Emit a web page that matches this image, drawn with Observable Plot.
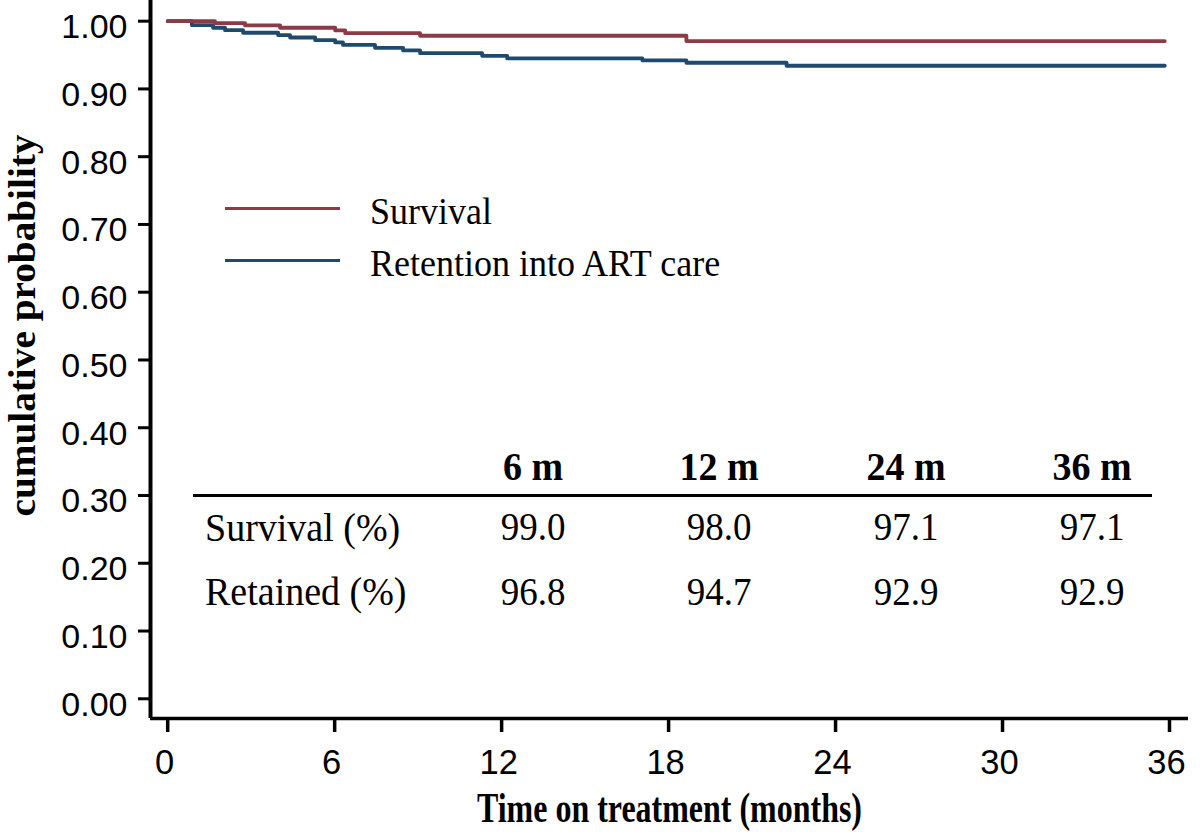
<!DOCTYPE html>
<html>
<head>
<meta charset="utf-8">
<script src="https://cdn.jsdelivr.net/npm/d3@7"></script>
<script src="https://cdn.jsdelivr.net/npm/@observablehq/plot@0.6"></script>
<style>
  body { margin: 0; background: #fff; }
  #wrap { position: relative; width: 1200px; height: 840px; overflow: hidden; }
  .ov { position: absolute; white-space: nowrap; font-family: "Liberation Serif", "Times New Roman", serif; color: #000; line-height: 1; }
  .cc { transform: translate(-50%, -50%) scaleY(1.08); }
  .lc { transform: translate(0, -50%) scaleY(1.08); transform-origin: left center; }
  .hl { position: absolute; height: 0; }
</style>
</head>
<body>
<div id="wrap"></div>
<script>
// ---- data ----
const survivalTime = [0, 1.70, 2.78, 4.04, 6.02, 6.38, 9.07, 18.64, 35.83];
const survivalProb = [1.000, 0.9970, 0.9937, 0.9903, 0.9863, 0.9823, 0.9785, 0.9706, 0.9706];
const retentionTime = [0, 0.87, 1.63, 2.06, 2.71, 3.97, 4.40, 5.30, 6.02, 6.30, 7.45, 8.46, 9.07, 11.30, 12.20, 17.06, 18.64, 22.24, 35.83];
const retentionProb = [1.000, 0.9941, 0.9903, 0.9867, 0.9829, 0.9793, 0.9759, 0.9720, 0.9686, 0.9649, 0.9607, 0.9568, 0.9528, 0.9489, 0.9450, 0.9420, 0.9386, 0.9342, 0.9342];
const seriesNames = ["Survival", "Retention into ART care"];
const seriesColors = ["#8b3b45", "#1f4a6e"];
const xTicks = [0, 6, 12, 18, 24, 30, 36];
const yTicks = [0, 0.1, 0.2, 0.3, 0.4, 0.5, 0.6, 0.7, 0.8, 0.9, 1.0];
const xTitle = "Time on treatment (months)";
const yTitle = "cumulative probability";
const tableColumns = ["6 m", "12 m", "24 m", "36 m"];
const tableRowLabels = ["Survival (%)", "Retained (%)"];
const survivalPct = ["99.0", "98.0", "97.1", "97.1"];
const retainedPct = ["96.8", "94.7", "92.9", "92.9"];

// ---- build tables ----
const survivalData = survivalTime.map((t, i) => ({t, p: survivalProb[i]}));
const retentionData = retentionTime.map((t, i) => ({t, p: retentionProb[i]}));

const xDomain = [-0.618, 36.683];
const yDomain = [-0.0291, 1.0305];
const serif = "'Liberation Serif', 'Times New Roman', serif";
const sans = "'Liberation Sans', Arial, sans-serif";

const chart = Plot.plot({
  width: 1200,
  height: 840,
  marginLeft: 150,
  marginRight: 12,
  marginTop: 0,
  marginBottom: 122,
  x: {domain: xDomain},
  y: {domain: yDomain},
  style: {fontFamily: sans, color: "#000", background: "#fff", overflow: "visible"},
  marks: [
    Plot.axisX(xTicks, {tickSize: 14, strokeWidth: 3.5, tickFormat: () => "", label: null}),
    Plot.axisX(xTicks, {tickSize: 0, tickPadding: 31, fontSize: 34.5, dx: -3, tickFormat: d => String(d), label: null}),
    Plot.axisY(yTicks, {tickSize: 12, strokeWidth: 3, tickFormat: () => "", label: null}),
    Plot.axisY(yTicks, {tickSize: 0, tickPadding: 23, fontSize: 34, dy: 6, tickFormat: d => d.toFixed(2), label: null}),
    Plot.line(retentionData, {x: "t", y: "p", curve: "step-after", stroke: seriesColors[1], strokeWidth: 3.8}),
    Plot.line(survivalData, {x: "t", y: "p", curve: "step-after", stroke: seriesColors[0], strokeWidth: 3.8}),
    Plot.ruleX([xDomain[0]], {strokeWidth: 4, stroke: "#000"}),
    Plot.ruleY([yDomain[0]], {strokeWidth: 3.5, stroke: "#000"}),
    Plot.text([xTitle], {frameAnchor: "bottom", dy: 90, fontFamily: serif, fontWeight: "bold", fontSize: 42, textAnchor: "middle", lineAnchor: "middle"}),
    Plot.text([yTitle], {frameAnchor: "left", dx: -128, dy: -34, rotate: -90, fontFamily: serif, fontWeight: "bold", fontSize: 38, textAnchor: "middle", lineAnchor: "middle"})
  ]
});

const wrap = document.getElementById("wrap");
wrap.appendChild(chart);

// condense titles to match the reference's narrow lettering
d3.select(chart).selectAll("text").filter(function() { return this.textContent === xTitle; })
  .attr("textLength", 385).attr("lengthAdjust", "spacingAndGlyphs");
d3.select(chart).selectAll("text").filter(function() { return this.textContent === yTitle; })
  .attr("textLength", 382).attr("lengthAdjust", "spacingAndGlyphs");

// ---- overlays: legend and summary table ----
function addText(txt, x, y, cls, size, weight) {
  const d = document.createElement("div");
  d.className = "ov " + cls;
  d.textContent = txt;
  d.style.left = x + "px";
  d.style.top = y + "px";
  d.style.fontSize = size + "px";
  if (weight) d.style.fontWeight = weight;
  wrap.appendChild(d);
  return d;
}
function addLine(x1, x2, y, w, color) {
  const d = document.createElement("div");
  d.className = "hl";
  d.style.left = x1 + "px";
  d.style.width = (x2 - x1) + "px";
  d.style.top = (y - w / 2) + "px";
  d.style.borderTop = w + "px solid " + color;
  wrap.appendChild(d);
}

// legend
const legendY = [209, 261];
seriesNames.forEach((name, i) => {
  addLine(225, 340, legendY[i], 3.5, seriesColors[i]);
  addText(name, 370, legendY[i] + 2, "lc", 36);
});

// table
const colX = [533, 719, 906, 1092];
tableColumns.forEach((c, i) => addText(c, colX[i], 466, "cc", 38, "bold"));
addLine(193, 1152, 495, 3, "#000");
const rowY = [527, 591];
const rowValues = [survivalPct, retainedPct];
tableRowLabels.forEach((lab, r) => {
  addText(lab, 205, rowY[r], "lc", 38);
  rowValues[r].forEach((v, i) => addText(v, colX[i], rowY[r], "cc", 37));
});
</script>
</body>
</html>
